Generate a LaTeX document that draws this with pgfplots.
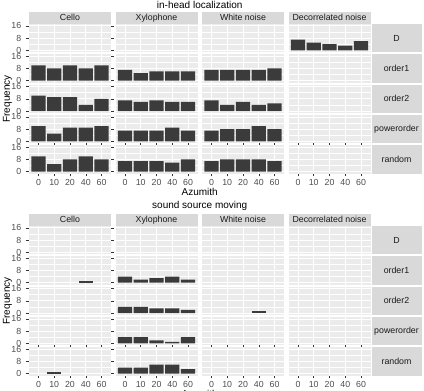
\documentclass[border=0pt]{standalone}
\usepackage{pgfplots}
\pgfplotsset{compat=1.18}
\usepackage{fontspec}
\setmainfont{Liberation Sans}
\definecolor{panelbg}{HTML}{EBEBEB}
\definecolor{stripbg}{HTML}{D9D9D9}
\definecolor{striptxt}{HTML}{1A1A1A}
\definecolor{ticktxt}{HTML}{4D4D4D}
\definecolor{tickcol}{HTML}{333333}
\definecolor{barcol}{HTML}{3B3B3B}
\newcommand{\tickfont}{\fontsize{8.8}{10}\selectfont}
\newcommand{\titlefont}{\fontsize{10}{12}\selectfont}
\pgfplotsset{
  panel/.style={
    scale only axis, width=82pt, height=28.3pt, anchor=north west,
    xmin=0.4, xmax=5.6, ymin=-1.3, ymax=17.2,
    axis background/.style={fill=panelbg},
    axis line style={draw=none},
    xtick={1,2,3,4,5}, ytick={0,8,16}, minor ytick={4,12},
    xticklabels={}, yticklabels={},
    grid=both,
    major grid style={white, line width=0.75pt},
    minor grid style={white, line width=0.35pt},
    tick align=outside, major tick length=2.75pt, minor tick length=0pt,
    xtick style={draw=none}, ytick style={draw=none},
    tick label style={font=\tickfont, text=ticktxt},
    yticklabel style={anchor=east, inner sep=0pt, xshift=-4.9pt},
    xticklabel style={anchor=north, inner sep=0pt, yshift=-2.6pt},
  },
  leftcol/.style={yticklabels={0,8,16}, ytick style={draw=tickcol, line width=0.5pt}},
  bottomrow/.style={xticklabels={0,10,20,40,60}, xtick style={draw=tickcol, line width=0.5pt}},
  bars/.style={ybar, bar width=0.9, bar shift=0pt, fill=barcol, draw=none},
}
\newcommand{\pan}[4]{\begin{axis}[panel, at={(#1pt,-#2pt)}, #3] #4 \end{axis}}
\newcommand{\cstrip}[3]{\fill[stripbg] (#1pt,-#2pt) rectangle ++(82pt,-12.3pt);
  \node[font=\tickfont, text=striptxt] at ({#1pt+41pt},{-#2pt-6.15pt}) {#3};}
\newcommand{\rstrip}[2]{\fill[stripbg] (371.5pt,-#1pt) rectangle (421.5pt,{-#1pt-28.3pt});
  \node[font=\tickfont, text=striptxt] at (396.5pt,{-#1pt-14.15pt}) {#2};}
\begin{document}
\begin{tikzpicture}
% ================= in-head localization =================
\node[font=\titlefont, anchor=base] at (199.75pt,-8.4pt) {in-head localization};
\cstrip{29}{11.7}{Cello}
\cstrip{115.5}{11.7}{Xylophone}
\cstrip{202}{11.7}{White noise}
\cstrip{288.5}{11.7}{Decorrelated noise}
\rstrip{24}{D}
\rstrip{54.35}{order1}
\rstrip{84.7}{order2}
\rstrip{115.05}{powerorder}
\rstrip{145.4}{random}
% Cello
\pan{29}{24}{leftcol}{}
\pan{29}{54.35}{leftcol}{\addplot[bars] coordinates {(1,10) (2,8) (3,10) (4,8) (5,10)};}
\pan{29}{84.7}{leftcol}{\addplot[bars] coordinates {(1,10) (2,9) (3,9) (4,4) (5,8)};}
\pan{29}{115.05}{leftcol}{\addplot[bars] coordinates {(1,10) (2,5) (3,9) (4,9) (5,10)};}
\pan{29}{145.4}{leftcol,bottomrow}{\addplot[bars] coordinates {(1,10) (2,5) (3,8) (4,10) (5,8)};}
% Xylophone
\pan{115.5}{24}{}{}
\pan{115.5}{54.35}{}{\addplot[bars] coordinates {(1,7) (2,5) (3,6) (4,6) (5,6)};}
\pan{115.5}{84.7}{}{\addplot[bars] coordinates {(1,7) (2,6) (3,7) (4,6) (5,6)};}
\pan{115.5}{115.05}{}{\addplot[bars] coordinates {(1,7) (2,7) (3,7) (4,9) (5,7)};}
\pan{115.5}{145.4}{bottomrow}{\addplot[bars] coordinates {(1,7) (2,7) (3,7) (4,6) (5,8)};}
% White noise
\pan{202}{24}{}{}
\pan{202}{54.35}{}{\addplot[bars] coordinates {(1,7) (2,7) (3,7) (4,7) (5,8)};}
\pan{202}{84.7}{}{\addplot[bars] coordinates {(1,7) (2,4) (3,6) (4,4) (5,5)};}
\pan{202}{115.05}{}{\addplot[bars] coordinates {(1,7) (2,8) (3,8) (4,10) (5,8)};}
\pan{202}{145.4}{bottomrow}{\addplot[bars] coordinates {(1,7) (2,8) (3,8) (4,8) (5,7)};}
% Decorrelated noise
\pan{288.5}{24}{}{\addplot[bars] coordinates {(1,7) (2,5) (3,4) (4,3) (5,6)};}
\pan{288.5}{54.35}{}{}
\pan{288.5}{84.7}{}{}
\pan{288.5}{115.05}{}{}
\pan{288.5}{145.4}{bottomrow}{}
\node[font=\titlefont, anchor=base] at (199.75pt,-195pt) {Azumith};
\node[font=\titlefont, rotate=90] at (7.5pt,-98.9pt) {Frequency};
% ================= sound source moving =================
\node[font=\titlefont, anchor=base] at (199.75pt,-208.4pt) {sound source moving};
\cstrip{29}{213.7}{Cello}
\cstrip{115.5}{213.7}{Xylophone}
\cstrip{202}{213.7}{White noise}
\cstrip{288.5}{213.7}{Decorrelated noise}
\rstrip{226}{D}
\rstrip{256.35}{order1}
\rstrip{286.7}{order2}
\rstrip{317.05}{powerorder}
\rstrip{347.4}{random}
% Cello
\pan{29}{226}{leftcol}{}
\pan{29}{256.35}{leftcol}{\addplot[bars] coordinates {(4,1)};}
\pan{29}{286.7}{leftcol}{}
\pan{29}{317.05}{leftcol}{}
\pan{29}{347.4}{leftcol,bottomrow}{\addplot[bars] coordinates {(2,1)};}
% Xylophone
\pan{115.5}{226}{}{}
\pan{115.5}{256.35}{}{\addplot[bars] coordinates {(1,4) (2,2) (3,3) (4,4) (5,2)};}
\pan{115.5}{286.7}{}{\addplot[bars] coordinates {(1,4) (2,4) (3,3) (4,3) (5,2)};}
\pan{115.5}{317.05}{}{\addplot[bars] coordinates {(1,4) (2,4) (3,2) (4,1) (5,4)};}
\pan{115.5}{347.4}{bottomrow}{\addplot[bars] coordinates {(1,4) (2,4) (3,6) (4,6) (5,3)};}
% White noise
\pan{202}{226}{}{}
\pan{202}{256.35}{}{}
\pan{202}{286.7}{}{\addplot[bars] coordinates {(4,1)};}
\pan{202}{317.05}{}{}
\pan{202}{347.4}{bottomrow}{}
% Decorrelated noise
\pan{288.5}{226}{}{}
\pan{288.5}{256.35}{}{}
\pan{288.5}{286.7}{}{}
\pan{288.5}{317.05}{}{}
\pan{288.5}{347.4}{bottomrow}{}
\node[font=\titlefont, anchor=base] at (199.75pt,-397pt) {Azumith};
\node[font=\titlefont, rotate=90] at (7.5pt,-300.9pt) {Frequency};
\pgfresetboundingbox
\path[use as bounding box] (0pt,0pt) rectangle (424pt,-391pt);
\end{tikzpicture}
\end{document}
